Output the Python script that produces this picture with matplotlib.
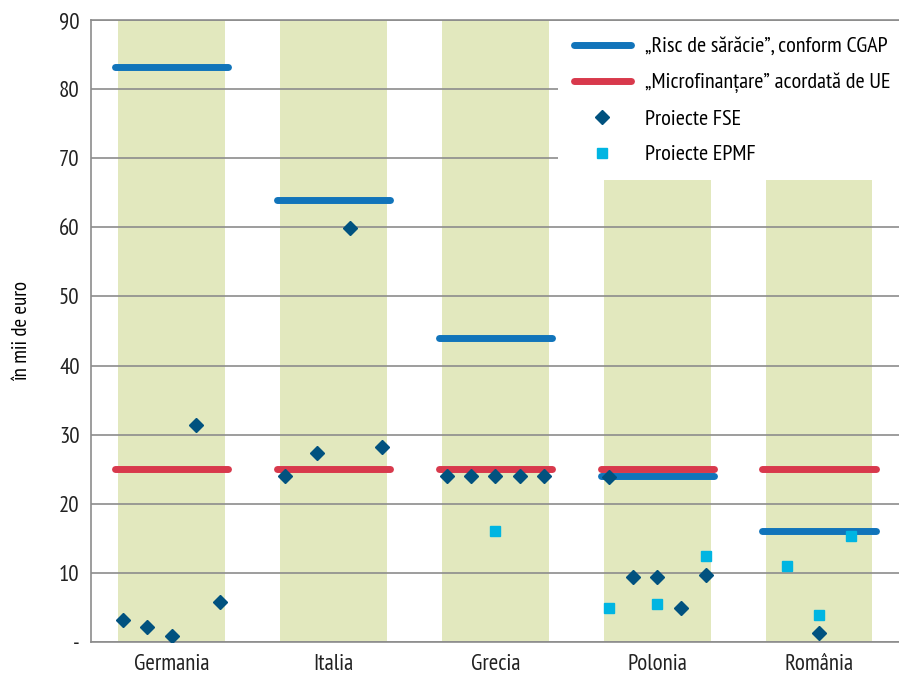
import numpy as np
import matplotlib
matplotlib.use("Agg")
import matplotlib.pyplot as plt
from matplotlib.lines import Line2D

plt.rcParams['font.family'] = ['PT Sans Narrow', 'Fira Sans Condensed', 'Roboto Condensed', 'DejaVu Sans']

# date
tari = ['Germania', 'Italia', 'Grecia', 'Polonia', 'România']
risc_cgap = [83.2, 64.0, 44.0, 24.0, 16.0]
microfin_ue = [25, 25, 25, 25, 25]
inaltime_fond = [90, 90, 90, 90, 90]

fse_germania = [3.2, 2.2, 0.9, 31.4, 5.8]
fse_italia = [24.0, 27.3, 59.9, 28.2]
fse_grecia = [24, 24, 24, 24, 24]
fse_polonia = [23.9, 9.4, 9.4, 4.9, 9.7]
fse_romania = [1.3]

epmf_germania = []
epmf_italia = []
epmf_grecia = [16.0]
epmf_polonia = [4.9, 5.5, 12.4]
epmf_romania = [11.0, 3.9, 15.3]

fse = [fse_germania, fse_italia, fse_grecia, fse_polonia, fse_romania]
epmf = [epmf_germania, epmf_italia, epmf_grecia, epmf_polonia, epmf_romania]
# cat de larg sunt imprastiate punctele in jurul centrului
latime_epmf = [0.3, 0.3, 0.3, 0.3, 0.2]

verde = '#e2e8be'
albastru = '#1174ba'
rosu = '#d8394c'
romb = '#01527f'
patrat = '#00b5e2'

fig = plt.figure(figsize=(8.99, 6.79), dpi=100)
ax = fig.add_axes([0.101, 0.0545, 0.9, 0.916])

x = np.arange(len(tari))
ax.bar(x, inaltime_fond, width=0.66, color=verde, zorder=0)

for i in x:
    ax.plot([i - 0.35, i + 0.35], [microfin_ue[i]] * 2, color=rosu, lw=5,
            solid_capstyle='round', zorder=3)
    ax.plot([i - 0.35, i + 0.35], [risc_cgap[i]] * 2, color=albastru, lw=5,
            solid_capstyle='round', zorder=3)
    n = len(fse[i])
    off = np.linspace(-0.3, 0.3, n) if n > 1 else np.zeros(1)
    ax.plot(i + off, fse[i], 'D', color=romb, ms=7, zorder=4)
    n = len(epmf[i])
    if n:
        off = np.linspace(-latime_epmf[i], latime_epmf[i], n) if n > 1 else np.zeros(1)
        ax.plot(i + off, epmf[i], 's', color=patrat, ms=7.5, zorder=4)

ax.set_xlim(-0.5, 4.5)
ax.set_ylim(0, 90)
ax.set_yticks(range(0, 91, 10))
ax.set_yticklabels(['-'] + [str(v) for v in range(10, 91, 10)])
ax.set_xticks(x)
ax.set_xticklabels(tari)
ax.tick_params(length=0, labelsize=16.5, colors='#222222')
ax.tick_params(axis='x', pad=9)
ax.tick_params(axis='y', pad=8)
ax.yaxis.grid(True, color='#8c8c8c', lw=1.2, zorder=1)
ax.spines['right'].set_visible(False)
for s in ['left', 'top', 'bottom']:
    ax.spines[s].set_color('#8c8c8c')
    ax.spines[s].set_linewidth(1.2)
ax.set_ylabel('în mii de euro', fontsize=15, labelpad=20)

handles = [Line2D([], [], color=albastru, lw=5, solid_capstyle='round'),
           Line2D([], [], color=rosu, lw=5, solid_capstyle='round'),
           Line2D([], [], marker='D', ls='', color=romb, ms=7),
           Line2D([], [], marker='s', ls='', color=patrat, ms=7.5)]
labels = ['„Risc de sărăcie”, conform CGAP', '„Microfinanțare” acordată de UE',
          'Proiecte FSE', 'Proiecte EPMF']
# legenda are fundal alb care acopera grila si barele verzi
leg = fig.legend(handles, labels, loc='upper left', bbox_to_anchor=(0.6207, 0.9685),
                 frameon=True, facecolor='white', edgecolor='none', framealpha=1,
                 fancybox=False, fontsize=16, handlelength=2.6, handletextpad=0.6,
                 labelspacing=0.72, borderpad=0.7, borderaxespad=0)

fig.savefig('out.png', dpi=100)
